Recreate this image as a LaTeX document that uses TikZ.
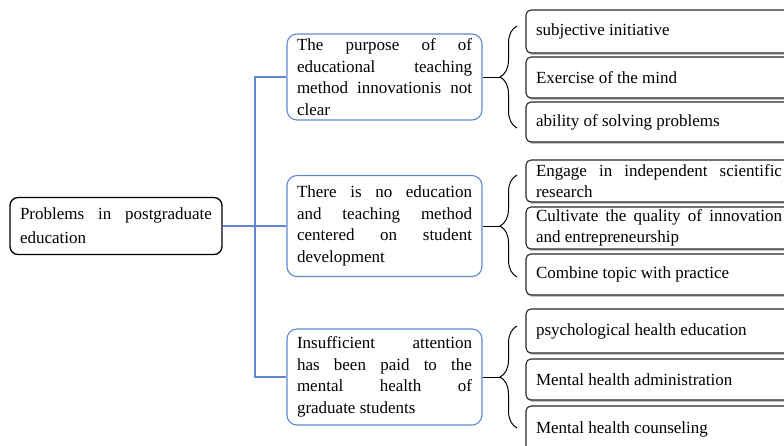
\documentclass[tikz,border=0pt]{standalone}
\usepackage{fontspec}
\setmainfont{Liberation Serif}
\usepackage{xcolor}
\usetikzlibrary{positioning}
\usetikzlibrary{decorations.pathreplacing,shadows}
\definecolor{boxblue}{RGB}{96,136,206}
\tikzstyle{rootbox} = [draw=black, line width=1.3pt, rounded corners=8pt, align=justify, text width=192pt, inner xsep=10pt, minimum height=57pt, font=\fontsize{17}{24}\selectfont]
\tikzstyle{causebox} = [draw=boxblue, line width=1.1pt, rounded corners=10pt, align=justify, text width=175pt, inner xsep=10pt, font=\fontsize{17}{21.5}\selectfont]
\tikzstyle{itembox} = [draw=black!85, line width=1.1pt, rounded corners=5pt, fill=white, drop shadow={shadow xshift=0.8pt, shadow yshift=-1.8pt, fill=black!45}, align=justify, text width=246pt, inner xsep=10pt, inner ysep=0pt, font=\fontsize{17}{21}\selectfont]
\tikzstyle{link} = [boxblue, line width=1.2pt]
\tikzstyle{curly} = [black, line width=1pt, decorate, decoration={brace, amplitude=17pt}]

\begin{document}
\begin{tikzpicture}[x=1pt,y=-1pt]
      \useasboundingbox (0,0) rectangle (784,445);
      \clip (0,0) rectangle (784,445);
      \node[rootbox] (root) at (116,226) {Problems in postgraduate\linebreak education};
      \node[causebox, minimum height=86pt] (c1) at (384.5,77) {The purpose of of\linebreak educational teaching\linebreak method innovationis not\linebreak clear};
      \node[causebox, minimum height=101pt] (c2) at (384.5,226) {There is no education\linebreak and teaching method\linebreak centered on student\linebreak development};
      \node[causebox, minimum height=96pt] (c3) at (384.5,377) {Insufficient attention\linebreak has been paid to the\linebreak mental health of\linebreak graduate students};
      \node[itembox, minimum height=43pt] (i11) at (659,31.5) {subjective initiative};
      \node[itembox, minimum height=41pt] (i12) at (659,77.5) {Exercise of the mind};
      \node[itembox, minimum height=40pt] (i13) at (659,122) {ability of solving problems};
      \node[itembox, minimum height=42pt] (i21) at (659,181) {Engage in independent scientific\linebreak research};
      \node[itembox, minimum height=42pt] (i22) at (659,228) {Cultivate the quality of innovation\linebreak and entrepreneurship};
      \node[itembox, minimum height=41pt] (i23) at (659,274.5) {Combine topic with practice};
      \node[itembox, minimum height=44pt] (i31) at (659,331) {psychological health education};
      \node[itembox, minimum height=41pt] (i32) at (659,379.5) {Mental health administration};
      \node[itembox, minimum height=46pt] (i33) at (659,429) {Mental health counseling};
      \coordinate (trunk) at (255,226);
      \coordinate (b1) at (500,77);
      \coordinate (b2) at (500,226);
      \coordinate (b3) at (500,377);
      \draw[link] (root.east)--(trunk);
      \draw[link] (trunk) |- (c1.west);
      \draw[link] (trunk)--(c2.west);
      \draw[link] (trunk) |- (c3.west);
      \draw[curly] (517,128)--(517,26);
      \draw[curly] (517,277)--(517,175);
      \draw[curly] (517,428)--(517,326);
      \draw[black, line width=1pt] (c1.east)--(b1);
      \draw[black, line width=1pt] (c2.east)--(b2);
      \draw[black, line width=1pt] (c3.east)--(b3);
      \end{tikzpicture}
\end{document}
